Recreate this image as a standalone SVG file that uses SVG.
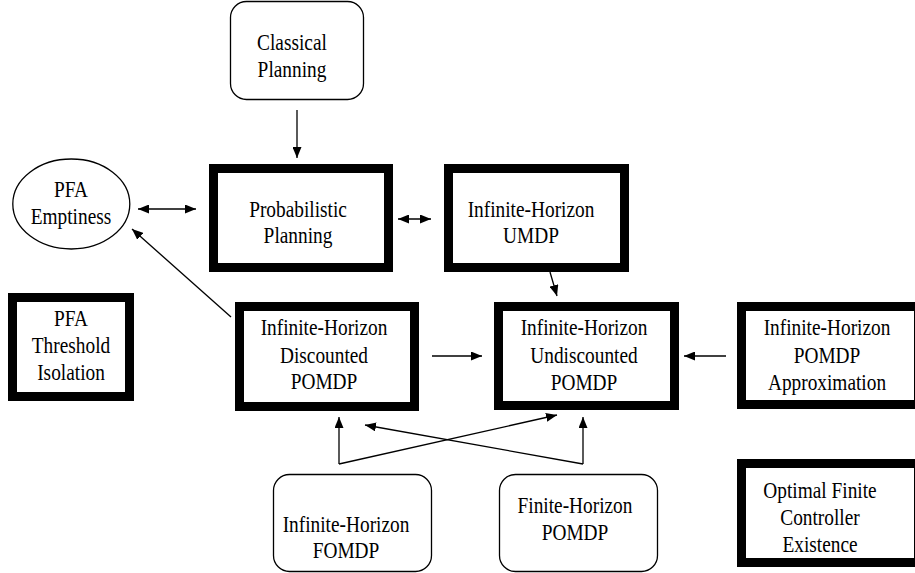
<svg xmlns="http://www.w3.org/2000/svg" width="915" height="573" viewBox="0 0 915 573">
<style>
.thick{fill:#fff;stroke:#000;stroke-width:9}
.round{fill:#fff;stroke:#000;stroke-width:1.3}
text{font-family:"Liberation Serif","Times New Roman",serif;font-size:22.5px;fill:#000;text-anchor:middle}
.c line{stroke:#000;stroke-width:1.3;fill:none}
</style>
<defs>
<marker id="ah" viewBox="0 0 11 9" refX="11" refY="4.5" markerWidth="11" markerHeight="9" markerUnits="userSpaceOnUse" orient="auto-start-reverse">
<path d="M0,0 L11,4.5 L0,9 z" fill="#000"/>
</marker>
</defs>
<rect width="915" height="573" fill="#fff"/>
<g id="classical">
<rect class="round" x="230.5" y="1.5" width="133" height="98" rx="16"/>
<g transform="translate(292 0) scale(0.86 1)"><text x="0" y="50">Classical</text><text x="0" y="77">Planning</text></g>
</g>
<g id="pfa-emptiness">
<ellipse cx="71.3" cy="204" rx="58.5" ry="45" fill="#fff" stroke="#000" stroke-width="1.3"/>
<g transform="translate(71 0) scale(0.86 1)"><text x="0" y="197">PFA</text><text x="0" y="224">Emptiness</text></g>
</g>
<g id="probabilistic">
<rect class="thick" x="213.5" y="168.5" width="175" height="99"/>
<g transform="translate(298 0) scale(0.86 1)"><text x="0" y="217">Probabilistic</text><text x="0" y="243">Planning</text></g>
</g>
<g id="umdp">
<rect class="thick" x="448.5" y="168.5" width="176" height="99"/>
<g transform="translate(531 0) scale(0.86 1)"><text x="0" y="217">Infinite-Horizon</text><text x="0" y="243">UMDP</text></g>
</g>
<g id="pfa-threshold">
<rect class="thick" x="12.5" y="297.5" width="117" height="99"/>
<g transform="translate(71 0) scale(0.86 1)"><text x="0" y="326">PFA</text><text x="0" y="353">Threshold</text><text x="0" y="380">Isolation</text></g>
</g>
<g id="discounted">
<rect class="thick" x="239.5" y="306.5" width="175" height="100"/>
<g transform="translate(324 0) scale(0.86 1)"><text x="0" y="335">Infinite-Horizon</text><text x="0" y="363">Discounted</text><text x="0" y="389">POMDP</text></g>
</g>
<g id="undiscounted">
<rect class="thick" x="498.5" y="306.5" width="176" height="99"/>
<g transform="translate(584 0) scale(0.86 1)"><text x="0" y="335">Infinite-Horizon</text><text x="0" y="363">Undiscounted</text><text x="0" y="390">POMDP</text></g>
</g>
<g id="approximation">
<rect class="thick" x="741.5" y="306.5" width="177" height="98"/>
<g transform="translate(827 0) scale(0.86 1)"><text x="0" y="335">Infinite-Horizon</text><text x="0" y="363">POMDP</text><text x="0" y="390">Approximation</text></g>
</g>
<g id="fomdp">
<rect class="round" x="273.5" y="474.5" width="158" height="97" rx="16"/>
<g transform="translate(346 0) scale(0.86 1)"><text x="0" y="532">Infinite-Horizon</text><text x="0" y="558">FOMDP</text></g>
</g>
<g id="finite-horizon">
<rect class="round" x="499.5" y="474.5" width="158" height="97" rx="16"/>
<g transform="translate(575 0) scale(0.86 1)"><text x="0" y="513">Finite-Horizon</text><text x="0" y="540">POMDP</text></g>
</g>
<g id="optimal-finite">
<rect class="thick" x="741.5" y="463.5" width="177" height="99"/>
<g transform="translate(820 0) scale(0.86 1)"><text x="0" y="498">Optimal Finite</text><text x="0" y="525">Controller</text><text x="0" y="552">Existence</text></g>
</g>
<g id="connectors" class="c">
<line x1="297" y1="110" x2="297" y2="158" marker-end="url(#ah)"/>
<line x1="138" y1="209" x2="196" y2="209" marker-start="url(#ah)" marker-end="url(#ah)"/>
<line x1="398" y1="219" x2="431" y2="219" marker-start="url(#ah)" marker-end="url(#ah)"/>
<line x1="231" y1="317" x2="132" y2="229" marker-end="url(#ah)"/>
<line x1="550" y1="272" x2="557" y2="296" marker-end="url(#ah)"/>
<line x1="432" y1="356" x2="482" y2="356" marker-end="url(#ah)"/>
<line x1="726" y1="356" x2="684" y2="356" marker-end="url(#ah)"/>
<line x1="339" y1="464" x2="339" y2="417" marker-end="url(#ah)"/>
<line x1="339" y1="464" x2="557" y2="415" marker-end="url(#ah)"/>
<line x1="583" y1="464" x2="583" y2="417" marker-end="url(#ah)"/>
<line x1="583" y1="464" x2="365" y2="425" marker-end="url(#ah)"/>
</g>
</svg>
